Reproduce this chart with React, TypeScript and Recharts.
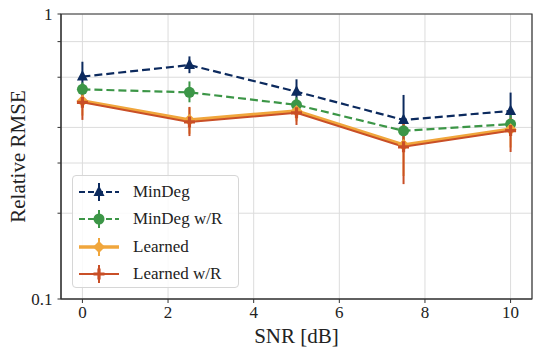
import React from "react";
import {
  LineChart,
  Line,
  XAxis,
  YAxis,
  CartesianGrid,
  ErrorBar,
  Legend,
  ReferenceArea,
} from "recharts";

const snr = [0, 2.5, 5, 7.5, 10];

const minDeg = [0.603, 0.662, 0.534, 0.425, 0.457];
const minDegLo = [0.54, 0.62, 0.49, 0.35, 0.39];
const minDegHi = [0.68, 0.71, 0.59, 0.52, 0.53];

const minDegR = [0.544, 0.531, 0.48, 0.389, 0.411];
const minDegRLo = [0.515, 0.49, 0.455, 0.34, 0.375];
const minDegRHi = [0.575, 0.58, 0.51, 0.44, 0.45];

const learned = [0.495, 0.425, 0.457, 0.347, 0.394];
const learnedLo = [0.44, 0.38, 0.42, 0.27, 0.34];
const learnedHi = [0.53, 0.47, 0.49, 0.42, 0.43];

const learnedR = [0.49, 0.418, 0.45, 0.342, 0.39];
const learnedRLo = [0.425, 0.373, 0.408, 0.253, 0.328];
const learnedRHi = [0.53, 0.472, 0.487, 0.425, 0.432];

const xTicks = [0, 2, 4, 6, 8, 10];
const yTicks = [0.1, 0.2, 0.3, 0.4, 0.5, 0.6, 0.7, 0.8, 0.9, 1];
const yLabels: Record<number, string> = { 0.1: "0.1", 1: "1" };

const FONT = "Liberation Serif, DejaVu Serif, serif";

const series = [
  { key: "md", name: "MinDeg", color: "#0c2a5e", dash: "8 4", width: 2.2, marker: "tri", vals: minDeg, lo: minDegLo, hi: minDegHi },
  { key: "mdr", name: "MinDeg w/R", color: "#3c9647", dash: "8 4", width: 2.2, marker: "circle", vals: minDegR, lo: minDegRLo, hi: minDegRHi },
  { key: "ln", name: "Learned", color: "#f0a63c", dash: undefined, width: 3.5, marker: "diamond", vals: learned, lo: learnedLo, hi: learnedHi },
  { key: "lnr", name: "Learned w/R", color: "#c94f27", dash: undefined, width: 2, marker: "plus", vals: learnedR, lo: learnedRLo, hi: learnedRHi },
];

const data = snr.map((x, i) => {
  const row: any = { x };
  series.forEach((s) => {
    row[s.key] = s.vals[i];
    row[s.key + "Err"] = [s.vals[i] - s.lo[i], s.hi[i] - s.vals[i]];
  });
  return row;
});

function Marker({ type, cx, cy, color }: any) {
  if (cx == null || cy == null) return null;
  if (type === "tri") {
    return <polygon points={`${cx},${cy - 6.5} ${cx - 5.5},${cy + 4} ${cx + 5.5},${cy + 4}`} fill={color} />;
  }
  if (type === "circle") {
    return <circle cx={cx} cy={cy} r={5.5} fill={color} />;
  }
  if (type === "diamond") {
    return <polygon points={`${cx},${cy - 6} ${cx + 6},${cy} ${cx},${cy + 6} ${cx - 6},${cy}`} fill={color} />;
  }
  return (
    <path
      d={`M${cx - 1.6},${cy - 5.5}h3.2v3.9h3.9v3.2h-3.9v3.9h-3.2v-3.9h-3.9v-3.2h3.9z`}
      fill={color}
    />
  );
}

function LegendBox() {
  return (
    <div
      style={{
        width: 167,
        height: 113,
        boxSizing: "border-box",
        border: "1px solid #d6d6d6",
        borderRadius: 4,
        background: "rgba(255,255,255,0.85)",
        paddingTop: 2,
      }}
    >
      {series.map((s) => (
        <div key={s.key} style={{ display: "flex", alignItems: "center", height: 27.5 }}>
          <svg width={56} height={20} style={{ marginLeft: 2 }}>
            <line x1={4} y1={10} x2={44} y2={10} stroke={s.color} strokeWidth={s.width} strokeDasharray={s.dash ? "6 3" : undefined} />
            <line x1={24} y1={1} x2={24} y2={19} stroke={s.color} strokeWidth={2} />
            <Marker type={s.marker} cx={24} cy={10} color={s.color} />
          </svg>
          <span style={{ marginLeft: 2, fontFamily: FONT, fontSize: 17, color: "#222" }}>{s.name}</span>
        </div>
      ))}
    </div>
  );
}

function YTick({ x, y, payload }: any) {
  const label = yLabels[payload.value];
  if (!label) return null;
  return (
    <text x={x} y={y} textAnchor="end" dominantBaseline="central" fontFamily={FONT} fontSize={17} fill="#222">
      {label}
    </text>
  );
}

function XTick({ x, y, payload }: any) {
  return (
    <text x={x} y={y + 13} textAnchor="middle" fontFamily={FONT} fontSize={17} fill="#222">
      {payload.value}
    </text>
  );
}

export default function App() {
  return (
    <div style={{ position: "absolute", left: 0, top: 0, background: "#fff" }}>
      <LineChart
        width={540}
        height={358}
        data={data}
        margin={{ top: 14, right: 8, bottom: 0, left: 0 }}
      >
        <CartesianGrid stroke="#dcdcdc" strokeWidth={1} />
        <XAxis
          dataKey="x"
          type="number"
          domain={[-0.5, 10.5]}
          ticks={xTicks}
          height={59}
          tickSize={4}
          tickMargin={2}
          stroke="#333"
          tick={<XTick />}
          label={{
            content: ({ viewBox }: any) => (
              <text
                x={viewBox.x + viewBox.width / 2}
                y={viewBox.y + 44}
                textAnchor="middle"
                fontFamily={FONT}
                fontSize={21}
                fill="#222"
              >
                SNR [dB]
              </text>
            ),
          }}
        />
        <YAxis
          type="number"
          scale="log"
          domain={[0.1, 1]}
          allowDataOverflow
          ticks={yTicks}
          width={61}
          tickSize={3.5}
          tickMargin={5}
          stroke="#333"
          tick={<YTick />}
          label={{
            content: ({ viewBox }: any) => {
              const cx = viewBox.x + 18;
              const cy = viewBox.y + viewBox.height / 2;
              return (
                <text
                  x={cx}
                  y={cy}
                  transform={`rotate(-90 ${cx} ${cy})`}
                  textAnchor="middle"
                  dominantBaseline="central"
                  fontFamily={FONT}
                  fontSize={21}
                  fill="#222"
                >
                  Relative RMSE
                </text>
              );
            },
          }}
        />
        <ReferenceArea x1={-0.5} x2={10.5} y1={0.1} y2={1} fill="none" stroke="#333" strokeWidth={1.2} />
        {series.map((s) => (
          <Line
            key={s.key}
            type="linear"
            dataKey={s.key}
            name={s.name}
            stroke={s.color}
            strokeWidth={s.width}
            strokeDasharray={s.dash}
            isAnimationActive={false}
            dot={(p: any) => <Marker key={`${s.key}-${p.index}`} type={s.marker} cx={p.cx} cy={p.cy} color={s.color} />}
            activeDot={false}
          >
            <ErrorBar dataKey={s.key + "Err"} width={0} stroke={s.color} strokeWidth={2} direction="y" />
          </Line>
        ))}
        <Legend
          layout="horizontal"
          verticalAlign="middle"
          align="center"
          wrapperStyle={{ position: "absolute", left: 72, top: 175, width: 167, height: 113 }}
          content={() => <LegendBox />}
        />
      </LineChart>
    </div>
  );
}
